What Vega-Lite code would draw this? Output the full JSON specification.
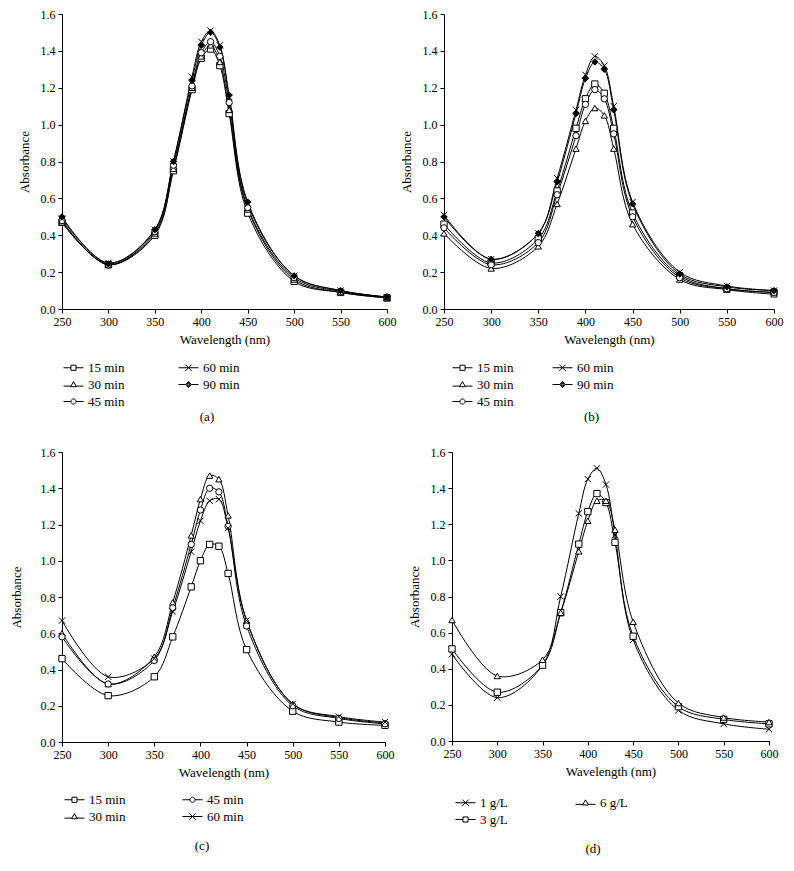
{
"$schema":"https://vega.github.io/schema/vega-lite/v6.json",
"padding":{"left":10,"top":8,"right":5,"bottom":5},
"background":"white",
"config":{"font":"Liberation Serif","view":{"stroke":null},
"axis":{"grid":false,"domainColor":"black","tickColor":"black","labelColor":"black","titleColor":"black","labelFont":"Liberation Serif","titleFont":"Liberation Serif","labelFontSize":12,"titleFontSize":13,"titleFontWeight":"normal","tickSize":4,"labelPadding":3,"domainWidth":1,"tickWidth":1,"labelFlush":false},
"axisY":{"titlePadding":9},
"axisX":{"titlePadding":6},
"legend":{"labelFont":"Liberation Serif","labelFontSize":13,"labelColor":"black","symbolStrokeColor":"black","symbolStrokeWidth":1,"symbolOpacity":1,"padding":0,"rowPadding":1,"symbolSize":256,"labelOffset":6},
"title":{"font":"Liberation Serif","fontSize":13,"fontWeight":"normal","color":"black"}},
"datasets":{
"a":[
{"s":"15 min","w":250,"a":0.47},{"s":"15 min","w":300,"a":0.24},{"s":"15 min","w":350,"a":0.40},{"s":"15 min","w":370,"a":0.75},{"s":"15 min","w":390,"a":1.19},{"s":"15 min","w":400,"a":1.36},{"s":"15 min","w":410,"a":1.41},{"s":"15 min","w":420,"a":1.32},{"s":"15 min","w":430,"a":1.06},{"s":"15 min","w":450,"a":0.52},{"s":"15 min","w":500,"a":0.15},{"s":"15 min","w":550,"a":0.09},{"s":"15 min","w":600,"a":0.06},
{"s":"30 min","w":250,"a":0.47},{"s":"30 min","w":300,"a":0.24},{"s":"30 min","w":350,"a":0.41},{"s":"30 min","w":370,"a":0.76},{"s":"30 min","w":390,"a":1.20},{"s":"30 min","w":400,"a":1.37},{"s":"30 min","w":410,"a":1.43},{"s":"30 min","w":420,"a":1.34},{"s":"30 min","w":430,"a":1.08},{"s":"30 min","w":450,"a":0.54},{"s":"30 min","w":500,"a":0.16},{"s":"30 min","w":550,"a":0.09},{"s":"30 min","w":600,"a":0.06},
{"s":"45 min","w":250,"a":0.48},{"s":"45 min","w":300,"a":0.24},{"s":"45 min","w":350,"a":0.42},{"s":"45 min","w":370,"a":0.78},{"s":"45 min","w":390,"a":1.21},{"s":"45 min","w":400,"a":1.39},{"s":"45 min","w":410,"a":1.45},{"s":"45 min","w":420,"a":1.37},{"s":"45 min","w":430,"a":1.12},{"s":"45 min","w":450,"a":0.55},{"s":"45 min","w":500,"a":0.17},{"s":"45 min","w":550,"a":0.095},{"s":"45 min","w":600,"a":0.065},
{"s":"60 min","w":250,"a":0.49},{"s":"60 min","w":300,"a":0.25},{"s":"60 min","w":350,"a":0.43},{"s":"60 min","w":370,"a":0.80},{"s":"60 min","w":390,"a":1.26},{"s":"60 min","w":400,"a":1.45},{"s":"60 min","w":410,"a":1.51},{"s":"60 min","w":420,"a":1.43},{"s":"60 min","w":430,"a":1.15},{"s":"60 min","w":450,"a":0.57},{"s":"60 min","w":500,"a":0.18},{"s":"60 min","w":550,"a":0.10},{"s":"60 min","w":600,"a":0.065},
{"s":"90 min","w":250,"a":0.50},{"s":"90 min","w":300,"a":0.245},{"s":"90 min","w":350,"a":0.43},{"s":"90 min","w":370,"a":0.80},{"s":"90 min","w":390,"a":1.24},{"s":"90 min","w":400,"a":1.43},{"s":"90 min","w":410,"a":1.50},{"s":"90 min","w":420,"a":1.42},{"s":"90 min","w":430,"a":1.16},{"s":"90 min","w":450,"a":0.58},{"s":"90 min","w":500,"a":0.18},{"s":"90 min","w":550,"a":0.10},{"s":"90 min","w":600,"a":0.065}],
"b":[
{"s":"15 min","w":250,"a":0.46},{"s":"15 min","w":300,"a":0.25},{"s":"15 min","w":350,"a":0.38},{"s":"15 min","w":370,"a":0.64},{"s":"15 min","w":390,"a":0.98},{"s":"15 min","w":400,"a":1.14},{"s":"15 min","w":410,"a":1.22},{"s":"15 min","w":420,"a":1.17},{"s":"15 min","w":430,"a":0.98},{"s":"15 min","w":450,"a":0.52},{"s":"15 min","w":500,"a":0.18},{"s":"15 min","w":550,"a":0.11},{"s":"15 min","w":600,"a":0.09},
{"s":"30 min","w":250,"a":0.41},{"s":"30 min","w":300,"a":0.22},{"s":"30 min","w":350,"a":0.34},{"s":"30 min","w":370,"a":0.57},{"s":"30 min","w":390,"a":0.87},{"s":"30 min","w":400,"a":1.02},{"s":"30 min","w":410,"a":1.09},{"s":"30 min","w":420,"a":1.05},{"s":"30 min","w":430,"a":0.87},{"s":"30 min","w":450,"a":0.46},{"s":"30 min","w":500,"a":0.16},{"s":"30 min","w":550,"a":0.105},{"s":"30 min","w":600,"a":0.08},
{"s":"45 min","w":250,"a":0.44},{"s":"45 min","w":300,"a":0.24},{"s":"45 min","w":350,"a":0.36},{"s":"45 min","w":370,"a":0.62},{"s":"45 min","w":390,"a":0.94},{"s":"45 min","w":400,"a":1.11},{"s":"45 min","w":410,"a":1.19},{"s":"45 min","w":420,"a":1.14},{"s":"45 min","w":430,"a":0.95},{"s":"45 min","w":450,"a":0.50},{"s":"45 min","w":500,"a":0.17},{"s":"45 min","w":550,"a":0.11},{"s":"45 min","w":600,"a":0.09},
{"s":"60 min","w":250,"a":0.51},{"s":"60 min","w":300,"a":0.27},{"s":"60 min","w":350,"a":0.41},{"s":"60 min","w":370,"a":0.71},{"s":"60 min","w":390,"a":1.08},{"s":"60 min","w":400,"a":1.27},{"s":"60 min","w":410,"a":1.37},{"s":"60 min","w":420,"a":1.32},{"s":"60 min","w":430,"a":1.10},{"s":"60 min","w":450,"a":0.58},{"s":"60 min","w":500,"a":0.20},{"s":"60 min","w":550,"a":0.125},{"s":"60 min","w":600,"a":0.10},
{"s":"90 min","w":250,"a":0.50},{"s":"90 min","w":300,"a":0.27},{"s":"90 min","w":350,"a":0.41},{"s":"90 min","w":370,"a":0.69},{"s":"90 min","w":390,"a":1.06},{"s":"90 min","w":400,"a":1.25},{"s":"90 min","w":410,"a":1.34},{"s":"90 min","w":420,"a":1.30},{"s":"90 min","w":430,"a":1.08},{"s":"90 min","w":450,"a":0.57},{"s":"90 min","w":500,"a":0.19},{"s":"90 min","w":550,"a":0.12},{"s":"90 min","w":600,"a":0.10}],
"c":[
{"s":"15 min","w":250,"a":0.46},{"s":"15 min","w":300,"a":0.256},{"s":"15 min","w":350,"a":0.36},{"s":"15 min","w":370,"a":0.58},{"s":"15 min","w":390,"a":0.856},{"s":"15 min","w":400,"a":1.00},{"s":"15 min","w":410,"a":1.09},{"s":"15 min","w":420,"a":1.08},{"s":"15 min","w":430,"a":0.93},{"s":"15 min","w":450,"a":0.51},{"s":"15 min","w":500,"a":0.17},{"s":"15 min","w":550,"a":0.11},{"s":"15 min","w":600,"a":0.092},
{"s":"30 min","w":250,"a":0.60},{"s":"30 min","w":300,"a":0.32},{"s":"30 min","w":350,"a":0.47},{"s":"30 min","w":370,"a":0.77},{"s":"30 min","w":390,"a":1.14},{"s":"30 min","w":400,"a":1.34},{"s":"30 min","w":410,"a":1.47},{"s":"30 min","w":420,"a":1.45},{"s":"30 min","w":430,"a":1.25},{"s":"30 min","w":450,"a":0.67},{"s":"30 min","w":500,"a":0.21},{"s":"30 min","w":550,"a":0.135},{"s":"30 min","w":600,"a":0.105},
{"s":"45 min","w":250,"a":0.58},{"s":"45 min","w":300,"a":0.32},{"s":"45 min","w":350,"a":0.45},{"s":"45 min","w":370,"a":0.74},{"s":"45 min","w":390,"a":1.09},{"s":"45 min","w":400,"a":1.28},{"s":"45 min","w":410,"a":1.40},{"s":"45 min","w":420,"a":1.38},{"s":"45 min","w":430,"a":1.19},{"s":"45 min","w":450,"a":0.64},{"s":"45 min","w":500,"a":0.20},{"s":"45 min","w":550,"a":0.13},{"s":"45 min","w":600,"a":0.10},
{"s":"60 min","w":250,"a":0.67},{"s":"60 min","w":300,"a":0.36},{"s":"60 min","w":350,"a":0.46},{"s":"60 min","w":370,"a":0.72},{"s":"60 min","w":390,"a":1.05},{"s":"60 min","w":400,"a":1.22},{"s":"60 min","w":410,"a":1.33},{"s":"60 min","w":420,"a":1.34},{"s":"60 min","w":430,"a":1.18},{"s":"60 min","w":450,"a":0.67},{"s":"60 min","w":500,"a":0.21},{"s":"60 min","w":550,"a":0.14},{"s":"60 min","w":600,"a":0.11}],
"d":[
{"s":"1 g/L","w":250,"a":0.48},{"s":"1 g/L","w":300,"a":0.24},{"s":"1 g/L","w":350,"a":0.42},{"s":"1 g/L","w":370,"a":0.80},{"s":"1 g/L","w":390,"a":1.26},{"s":"1 g/L","w":400,"a":1.45},{"s":"1 g/L","w":410,"a":1.51},{"s":"1 g/L","w":420,"a":1.42},{"s":"1 g/L","w":430,"a":1.14},{"s":"1 g/L","w":450,"a":0.56},{"s":"1 g/L","w":500,"a":0.17},{"s":"1 g/L","w":550,"a":0.095},{"s":"1 g/L","w":600,"a":0.065},
{"s":"3 g/L","w":250,"a":0.51},{"s":"3 g/L","w":300,"a":0.27},{"s":"3 g/L","w":350,"a":0.42},{"s":"3 g/L","w":370,"a":0.71},{"s":"3 g/L","w":390,"a":1.09},{"s":"3 g/L","w":400,"a":1.27},{"s":"3 g/L","w":410,"a":1.37},{"s":"3 g/L","w":420,"a":1.32},{"s":"3 g/L","w":430,"a":1.10},{"s":"3 g/L","w":450,"a":0.58},{"s":"3 g/L","w":500,"a":0.19},{"s":"3 g/L","w":550,"a":0.12},{"s":"3 g/L","w":600,"a":0.095},
{"s":"6 g/L","w":250,"a":0.67},{"s":"6 g/L","w":300,"a":0.36},{"s":"6 g/L","w":350,"a":0.45},{"s":"6 g/L","w":370,"a":0.71},{"s":"6 g/L","w":390,"a":1.05},{"s":"6 g/L","w":400,"a":1.22},{"s":"6 g/L","w":410,"a":1.33},{"s":"6 g/L","w":420,"a":1.33},{"s":"6 g/L","w":430,"a":1.17},{"s":"6 g/L","w":450,"a":0.66},{"s":"6 g/L","w":500,"a":0.21},{"s":"6 g/L","w":550,"a":0.13},{"s":"6 g/L","w":600,"a":0.105}]
},
"spacing":22,
"resolve":{"scale":{"shape":"independent","fill":"independent"},"legend":{"shape":"independent"}},
"vconcat":[
{"spacing":4,
"resolve":{"scale":{"shape":"independent","fill":"independent"},"legend":{"shape":"independent"}},
"hconcat":[
{"width":325,"height":295,"data":{"name":"a"},
"title":{"text":"(a)","orient":"bottom","frame":"bounds","offset":2},
"resolve":{"scale":{"shape":"independent"}},
"encoding":{
"x":{"field":"w","type":"quantitative","scale":{"domain":[250,600],"nice":false},"axis":{"values":[250,300,350,400,450,500,550,600],"title":"Wavelength (nm)"}},
"y":{"field":"a","type":"quantitative","scale":{"domain":[0,1.6],"nice":false},"axis":{"values":[0,0.2,0.4,0.6,0.8,1.0,1.2,1.4,1.6],"format":".1f","title":"Absorbance"}}},
"layer":[
{"mark":{"type":"line","interpolate":"catmull-rom","color":"black","strokeWidth":1},"encoding":{"detail":{"field":"s"}}},
{"mark":{"type":"point","size":40,"stroke":"black","strokeWidth":1,"opacity":1,"filled":true},
"encoding":{
"fill":{"condition":{"test":"datum.s === '90 min'","value":"black"},"value":"white"},
"shape":{"field":"s","type":"nominal","scale":{"domain":["15 min","30 min","45 min","60 min","90 min"],"range":["square","triangle-up","circle","M-1,-1L1,1M-1,1L1,-1","diamond"]},"legend":null}}},
{"mark":{"type":"point","filled":false,"color":"black","strokeWidth":1,"opacity":0},
"encoding":{
"shape":{"field":"s","type":"nominal","scale":{"domain":["15 min","30 min","45 min","60 min","90 min"],"range":["M-1.25,0H-0.32M0.32,0H1.25M-0.32,-0.32H0.32V0.32H-0.32Z","M-1.25,0.2H-0.32M0.32,0.2H1.25M0,-0.36L0.37,0.28H-0.37Z","M-1.25,0H-0.32M0.32,0H1.25M0.32,0A0.32,0.32,0,1,1,-0.32,0A0.32,0.32,0,1,1,0.32,0Z","M-1.25,0H1.25M-0.4,-0.4L0.4,0.4M-0.4,0.4L0.4,-0.4","M-1.25,0H-0.34M0.34,0H1.25M0,-0.4L0.34,0L0,0.4L-0.34,0ZM0,-0.26L0.21,0L0,0.26L-0.21,0ZM0,-0.12L0.09,0L0,0.12L-0.09,0Z"]},
"legend":{"title":null,"orient":"none","legendX":3,"legendY":345,"columns":2,"columnPadding":51}}}}
]},
{"width":330,"height":295,"data":{"name":"b"},
"title":{"text":"(b)","orient":"bottom","frame":"bounds","offset":2},
"resolve":{"scale":{"shape":"independent"}},
"encoding":{
"x":{"field":"w","type":"quantitative","scale":{"domain":[250,600],"nice":false},"axis":{"values":[250,300,350,400,450,500,550,600],"title":"Wavelength (nm)"}},
"y":{"field":"a","type":"quantitative","scale":{"domain":[0,1.6],"nice":false},"axis":{"values":[0,0.2,0.4,0.6,0.8,1.0,1.2,1.4,1.6],"format":".1f","title":"Absorbance"}}},
"layer":[
{"mark":{"type":"line","interpolate":"catmull-rom","color":"black","strokeWidth":1},"encoding":{"detail":{"field":"s"}}},
{"mark":{"type":"point","size":40,"stroke":"black","strokeWidth":1,"opacity":1,"filled":true},
"encoding":{
"fill":{"condition":{"test":"datum.s === '90 min'","value":"black"},"value":"white"},
"shape":{"field":"s","type":"nominal","scale":{"domain":["15 min","30 min","45 min","60 min","90 min"],"range":["square","triangle-up","circle","M-1,-1L1,1M-1,1L1,-1","diamond"]},"legend":null}}},
{"mark":{"type":"point","filled":false,"color":"black","strokeWidth":1,"opacity":0},
"encoding":{
"shape":{"field":"s","type":"nominal","scale":{"domain":["15 min","30 min","45 min","60 min","90 min"],"range":["M-1.25,0H-0.32M0.32,0H1.25M-0.32,-0.32H0.32V0.32H-0.32Z","M-1.25,0.2H-0.32M0.32,0.2H1.25M0,-0.36L0.37,0.28H-0.37Z","M-1.25,0H-0.32M0.32,0H1.25M0.32,0A0.32,0.32,0,1,1,-0.32,0A0.32,0.32,0,1,1,0.32,0Z","M-1.25,0H1.25M-0.4,-0.4L0.4,0.4M-0.4,0.4L0.4,-0.4","M-1.25,0H-0.34M0.34,0H1.25M0,-0.4L0.34,0L0,0.4L-0.34,0ZM0,-0.26L0.21,0L0,0.26L-0.21,0ZM0,-0.12L0.09,0L0,0.12L-0.09,0Z"]},
"legend":{"title":null,"orient":"none","legendX":10,"legendY":345,"columns":2,"columnPadding":36}}}}
]}
]},
{"spacing":14,
"resolve":{"scale":{"shape":"independent","fill":"independent"},"legend":{"shape":"independent"}},
"hconcat":[
{"width":323,"height":290,"data":{"name":"c"},
"title":{"text":"(c)","orient":"bottom","frame":"bounds","offset":16},
"resolve":{"scale":{"shape":"independent"}},
"encoding":{
"x":{"field":"w","type":"quantitative","scale":{"domain":[250,600],"nice":false},"axis":{"values":[250,300,350,400,450,500,550,600],"title":"Wavelength (nm)"}},
"y":{"field":"a","type":"quantitative","scale":{"domain":[0,1.6],"nice":false},"axis":{"values":[0,0.2,0.4,0.6,0.8,1.0,1.2,1.4,1.6],"format":".1f","title":"Absorbance","titlePadding":17}}},
"layer":[
{"mark":{"type":"line","interpolate":"catmull-rom","color":"black","strokeWidth":1},"encoding":{"detail":{"field":"s"}}},
{"mark":{"type":"point","size":40,"stroke":"black","strokeWidth":1,"opacity":1,"fill":"white","filled":true},
"encoding":{
"shape":{"field":"s","type":"nominal","scale":{"domain":["15 min","30 min","45 min","60 min"],"range":["square","triangle-up","circle","M-1,-1L1,1M-1,1L1,-1"]},"legend":null}}},
{"mark":{"type":"point","filled":false,"color":"black","strokeWidth":1,"opacity":0},
"encoding":{
"shape":{"field":"s","type":"nominal","scale":{"domain":["15 min","30 min","45 min","60 min"],"range":["M-1.25,0H-0.32M0.32,0H1.25M-0.32,-0.32H0.32V0.32H-0.32Z","M-1.25,0.2H-0.32M0.32,0.2H1.25M0,-0.36L0.37,0.28H-0.37Z","M-1.25,0H-0.32M0.32,0H1.25M0.32,0A0.32,0.32,0,1,1,-0.32,0A0.32,0.32,0,1,1,0.32,0Z","M-1.25,0H1.25M-0.4,-0.4L0.4,0.4M-0.4,0.4L0.4,-0.4"]},
"legend":{"title":null,"orient":"none","legendX":4,"legendY":339,"columns":2,"columnPadding":54}}}}
]},
{"width":317,"height":289,"data":{"name":"d"},
"title":{"text":"(d)","orient":"bottom","frame":"bounds","offset":16},
"resolve":{"scale":{"shape":"independent"}},
"encoding":{
"x":{"field":"w","type":"quantitative","scale":{"domain":[250,600],"nice":false},"axis":{"values":[250,300,350,400,450,500,550,600],"title":"Wavelength (nm)"}},
"y":{"field":"a","type":"quantitative","scale":{"domain":[0,1.6],"nice":false},"axis":{"values":[0,0.2,0.4,0.6,0.8,1.0,1.2,1.4,1.6],"format":".1f","title":"Absorbance"}}},
"layer":[
{"mark":{"type":"line","interpolate":"catmull-rom","color":"black","strokeWidth":1},"encoding":{"detail":{"field":"s"}}},
{"mark":{"type":"point","size":40,"stroke":"black","strokeWidth":1,"opacity":1,"fill":"white","filled":true},
"encoding":{
"shape":{"field":"s","type":"nominal","scale":{"domain":["1 g/L","3 g/L","6 g/L"],"range":["M-1,-1L1,1M-1,1L1,-1","square","triangle-up"]},"legend":null}}},
{"mark":{"type":"point","filled":false,"color":"black","strokeWidth":1,"opacity":0},
"encoding":{
"shape":{"field":"s","type":"nominal","scale":{"domain":["1 g/L","3 g/L","6 g/L"],"range":["M-1.25,0H1.25M-0.4,-0.4L0.4,0.4M-0.4,0.4L0.4,-0.4","M-1.25,0H-0.32M0.32,0H1.25M-0.32,-0.32H0.32V0.32H-0.32Z","M-1.25,0.2H-0.32M0.32,0.2H1.25M0,-0.36L0.37,0.28H-0.37Z"]},
"legend":{"title":null,"orient":"none","legendX":5,"legendY":342,"columns":2,"columnPadding":65}}}}
]}
]}
]
}
